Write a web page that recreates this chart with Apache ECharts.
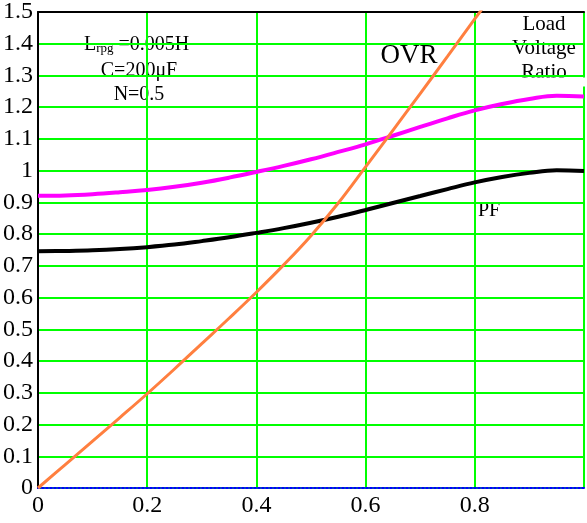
<!DOCTYPE html>
<html>
<head>
<meta charset="utf-8">
<script src="https://cdn.jsdelivr.net/npm/echarts@6/dist/echarts.min.js"></script>
<style>
  html, body { margin: 0; padding: 0; background: #fff; }
  #chart { width: 587px; height: 523px; }
</style>
</head>
<body>
<div id="chart"></div>
<script>
// Modulation index (x) sampled in steps of 0.05
const xValues = [0, 0.05, 0.1, 0.15, 0.2, 0.25, 0.3, 0.35, 0.4, 0.45, 0.5,
                 0.55, 0.6, 0.65, 0.7, 0.75, 0.8, 0.85, 0.9, 0.95, 1.0];

// Over-voltage ratio
const ovr = [0, 0.074, 0.148, 0.222, 0.297, 0.375, 0.455, 0.535, 0.617, 0.703, 0.795,
             0.898, 1.012, 1.127, 1.243, 1.36, 1.478, 1.596, 1.715, 1.835, 1.955];

// Load voltage ratio
const loadVoltageRatio = [0.921, 0.922, 0.926, 0.932, 0.939, 0.949, 0.962, 0.978, 0.996, 1.015, 1.036,
                          1.059, 1.083, 1.11, 1.138, 1.165, 1.19, 1.21, 1.226, 1.236, 1.234];

// Power factor
const pf = [0.746, 0.747, 0.749, 0.753, 0.759, 0.767, 0.778, 0.79, 0.804, 0.819, 0.836,
            0.855, 0.876, 0.898, 0.92, 0.942, 0.963, 0.98, 0.993, 1.001, 0.999];

const xTicks = { min: 0, max: 1, interval: 0.2 };
const yTicks = { min: 0, max: 1.5, interval: 0.1 };

const pairs = ys => xValues.map((x, i) => [x, ys[i]]);

const serif = 'Liberation Serif';
const chart = echarts.init(document.getElementById('chart'), null, { renderer: 'canvas' });

const label = (text, x, y, size, align) => ({
  type: 'text', x: x, y: y,
  style: { text: text, font: size + 'px "Liberation Serif"', fill: '#000', textAlign: align || 'center' }
});

chart.setOption({
  backgroundColor: '#ffffff',
  animation: false,
  grid: { left: 38, top: 11, right: -1, bottom: 35, containLabel: false },
  xAxis: [{
    type: 'value',
    min: xTicks.min, max: xTicks.max, interval: xTicks.interval,
    axisLine: { show: true, lineStyle: { color: '#0000ff', type: 'dotted', width: 2 } },
    axisTick: { show: false },
    axisLabel: {
      margin: 6, color: '#000', fontFamily: serif, fontSize: 24,
      formatter: v => (v >= 1 ? '' : String(Math.round(v * 10) / 10))
    },
    splitLine: { show: true, lineStyle: { color: '#00ff00', width: 2 } }
  }, {
    type: 'value', position: 'top',
    min: xTicks.min, max: xTicks.max,
    axisLine: { show: true, lineStyle: { color: '#000', width: 2 } },
    axisTick: { show: false }, axisLabel: { show: false }, splitLine: { show: false }
  }],
  yAxis: {
    type: 'value',
    min: yTicks.min, max: yTicks.max, interval: yTicks.interval,
    axisLine: { show: true, lineStyle: { color: '#000', width: 2 } },
    axisTick: { show: false },
    axisLabel: {
      margin: 5, color: '#000', fontFamily: serif, fontSize: 24,
      formatter: v => String(Math.round(v * 10) / 10)
    },
    splitLine: { show: true, lineStyle: { color: '#00ff00', width: 2 } }
  },
  series: [
    {
      name: 'PF', type: 'line', data: pairs(pf), smooth: 0.4, symbol: 'none', clip: true,
      lineStyle: { color: '#000000', width: 4 }
    },
    {
      name: 'Load Voltage Ratio', type: 'line', data: pairs(loadVoltageRatio), smooth: 0.4,
      symbol: 'none', clip: true,
      lineStyle: { color: '#ff00ff', width: 4 }
    },
    {
      name: 'OVR', type: 'line', data: pairs(ovr), smooth: 0.4, symbol: 'none', clip: true,
      lineStyle: { color: '#ff7f3f', width: 3 }
    }
  ],
  graphic: [
    { type: 'text', left: 84, top: 35, style: {
        text: '{b|L}{s|rpg}{b| =0.005H}', fill: '#000',
        rich: {
          b: { fontFamily: serif, fontSize: 20, fill: '#000', verticalAlign: 'bottom' },
          s: { fontFamily: serif, fontSize: 13, fill: '#000', padding: [8, 0, 0, 0], verticalAlign: 'bottom' }
        }
      } },
    label('C=200μF', 139, 61, 20),
    label('N=0.5', 139, 85, 20),
    label('OVR', 409, 42, 27),
    label('Load', 544, 14, 21),
    label('Voltage', 544, 38, 21),
    label('Ratio', 544, 62, 21),
    { type: 'rect', shape: { x: 505, y: 77.5, width: 82, height: 9 }, style: { fill: '#fff' }, z: 50 },
    label('PF', 478, 201, 20, 'left')
  ]
});
</script>
</body>
</html>
